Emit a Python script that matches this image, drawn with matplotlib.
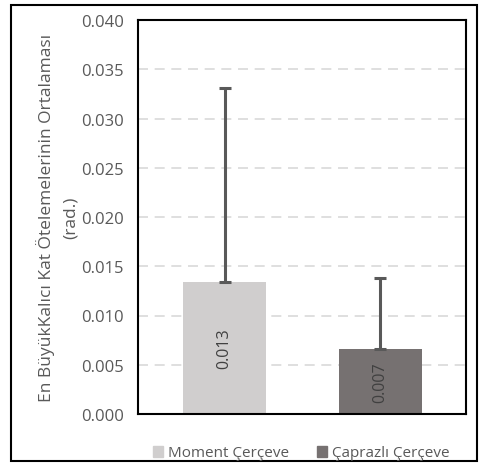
import matplotlib
matplotlib.use("Agg")
import matplotlib.pyplot as plt
from matplotlib.patches import Rectangle, Patch

plt.rcParams['font.family'] = ['Open Sans', 'DejaVu Sans']

series = ["Moment Çerçeve", "Çaprazlı Çerçeve"]
means = [0.0134, 0.0066]
err_plus = [0.0197, 0.0072]
colors = ["#d0cece", "#767171"]
yticks = [0.000, 0.005, 0.010, 0.015, 0.020, 0.025, 0.030, 0.035, 0.040]
ylabel = "En BüyükKalıcı Kat Ötelemelerinin Ortalaması\n(rad.)"

W, H = 481, 464
fig = plt.figure(figsize=(W / 100, H / 100), dpi=100)
ax = fig.add_axes([138 / W, 1 - 415 / H, 328 / W, 394 / H])

xpos = [0.264, 0.738]
width = 0.253
ax.bar(xpos, means, width=width, color=colors, zorder=2)
ax.errorbar(xpos, means, yerr=[[0, 0], err_plus], fmt="none",
            ecolor="#595959", elinewidth=2.2, capsize=4, capthick=2.2, zorder=3)

for x, v in zip(xpos, means):
    ax.text(x, v / 2, f"{v:.3f}", rotation=90, ha="center", va="center",
            fontsize=11.5, color="#404040", zorder=4)

ax.set_xlim(0, 1)
ax.set_ylim(0, 0.040)
ax.set_yticks(yticks)
ax.set_yticklabels([f"{t:.3f}" for t in yticks], fontsize=12, color="#595959")
ax.set_xticks([])
ax.tick_params(axis="y", length=0, pad=10)
ax.yaxis.grid(True, linestyle=(0, (6, 4)), color="#d9d9d9", linewidth=1.2, zorder=0)
ax.set_axisbelow(True)
for s in ax.spines.values():
    s.set_color("black")
    s.set_linewidth(1.5)

ax.set_ylabel(ylabel, fontsize=12.5, color="#595959", labelpad=2, linespacing=1.6)

handles = [Patch(color=c, label=s) for c, s in zip(colors, series)]
fig.legend(handles=handles, loc="center", bbox_to_anchor=(301 / W, 1 - 454 / H),
           ncol=2, frameon=False, fontsize=11, handlelength=0.7, handleheight=0.7,
           handletextpad=0.3, columnspacing=1.8, labelcolor="#595959")

fig.patches.append(Rectangle((11 / W, 1 - 462 / H), 466 / W, 456 / H,
                             transform=fig.transFigure, fill=False,
                             edgecolor="black", linewidth=1.5))

fig.savefig("out.png", dpi=100)
